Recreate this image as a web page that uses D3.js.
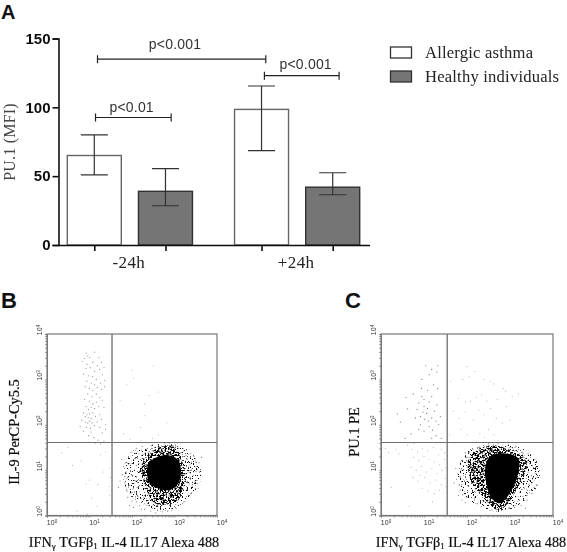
<!DOCTYPE html>
<html><head><meta charset="utf-8">
<script src="https://cdn.jsdelivr.net/npm/d3@7"></script>
<style>html,body{margin:0;padding:0;background:#fff}svg{display:block}</style></head>
<body><svg id="c" width="567" height="552"></svg>
<script>
// ---- Panel A data
const timepoints = ["-24h","+24h"];
const barLabels = ["Allergic asthma","Healthy individuals"];
const barPositions = [0,1,2.35,3.35];
const barGroups = [0,1,0,1];
const barMeans = [65,39,98.5,42];
const barLow = [51,28.5,68.5,36.5];
const barHigh = [80,55.5,115.5,52.5];
const yTicksA = [0,50,100,150];
const bracketFrom = [0.045,2.39,0.017];
const bracketTo = [2.41,3.44,1.08];
const bracketLevel = [135,123,92.6];
const bracketText = ["p<0.001","p<0.001","p<0.01"];
const bracketTextPos = [1.134,2.97,0.525];
const bracketTextLevel = [142.4,127.6,96.8];
// ---- Flow panels: hundredths of a decade, log10 axes 10^0..10^4
const gateB = [153,161];
const gateC = [154,161];
const coreB = [[235,100],[242,118],[262,130],[285,133],[309,122],[315,94],[309,71],[289,56],[262,60],[242,71]];
const denseB = [[223,93],[227,122],[246,140],[270,152],[297,152],[317,122],[325,93],[321,63],[309,34],[278,23],[250,30],[235,56]];
const sparseB = [[180,85],[195,137],[238,152],[262,157],[309,155],[348,130],[364,85],[329,34],[278,8],[231,23],[191,49]];
const coreC = [[242,100],[253,130],[284,137],[319,126],[319,93],[304,56],[277,27],[257,38],[246,67]];
const denseC = [[203,122],[230,148],[261,155],[300,144],[339,118],[335,93],[315,56],[292,23],[273,12],[250,27],[230,49],[211,71]];
const sparseC = [[180,100],[199,140],[246,155],[316,152],[362,122],[366,71],[327,27],[277,8],[215,27],[184,63]];
const ulB = [[92,358],[96,352],[88,346],[101,348],[112,360],[122,348],[84,340],[94,333],[108,338],[118,330],[128,338],[92,324],[102,326],[112,318],[124,322],[134,326],[86,312],[98,308],[107,306],[116,300],[130,310],[94,296],[104,292],[112,288],[126,292],[136,298],[90,284],[100,280],[108,276],[118,282],[128,278],[136,284],[96,268],[106,262],[116,268],[124,260],[88,256],[100,252],[108,246],[116,250],[130,254],[92,240],[98,234],[104,238],[112,236],[122,240],[134,238],[86,226],[90,218],[94,222],[97,216],[100,224],[104,214],[108,226],[114,218],[124,222],[82,210],[90,206],[96,204],[100,208],[106,204],[118,206],[128,212],[78,196],[92,194],[102,192],[112,198],[124,194],[138,200],[86,186],[104,184],[130,182],[138,190],[110,172],[120,166],[134,164],[114,160],[126,158],[98,176]];
const urB = [[200,320],[204,302],[188,288],[240,265],[250,330],[262,272],[172,254],[230,220],[230,246],[282,204],[262,178],[220,194],[196,168],[222,166],[238,160],[248,170],[180,180],[300,162],[210,138]];
const llB = [[70,10],[95,3],[92,70],[100,78],[120,68],[80,120],[60,110],[132,96],[105,38],[118,20],[138,140],[50,150],[35,138],[148,104],[146,64],[150,84],[148,44],[152,76],[151,55],[126,134]];
const haloB = [[180,108],[186,96],[177,90],[190,84],[183,72],[195,66],[188,58],[196,48],[190,40],[200,32],[194,22],[204,18],[210,110],[204,122],[198,114],[212,128],[206,100],[202,88],[208,76],[200,70],[212,62],[206,52],[214,42],[210,30],[218,22],[222,14],[230,26],[228,40],[216,136],[222,144],[234,146],[226,134],[238,140],[246,148],[254,144],[262,150],[270,146],[278,152],[288,148],[298,146],[306,142],[314,138],[322,130],[330,124],[328,108],[336,112],[332,96],[340,100],[336,82],[344,88],[334,70],[342,64],[330,56],[338,48],[328,42],[322,30],[314,24],[304,16],[294,12],[284,10],[272,8],[260,12],[248,16],[238,22],[352,98],[358,116],[348,74],[356,60],[350,118],[364,128],[346,130],[172,76],[168,62],[184,116],[176,124],[192,130],[200,140],[210,148],[224,152],[296,154],[262,156],[248,156],[276,158],[230,14],[244,10],[256,6],[340,118],[348,108],[338,136],[322,142],[310,148]];
const ulC = [[58,260],[62,235],[38,224],[45,206],[75,268],[80,215],[88,248],[95,262],[100,240],[106,225],[112,250],[118,262],[122,288],[132,280],[124,230],[130,244],[98,228],[102,212],[110,208],[92,200],[88,190],[100,186],[112,196],[120,188],[134,200],[138,218],[70,180],[56,170],[76,160],[118,170],[128,176],[140,170],[95,300],[112,310],[130,316],[118,322],[132,330],[104,330],[94,280],[108,276],[84,234],[118,215],[92,218],[108,236],[100,256],[128,208]];
const urC = [[162,296],[190,300],[205,306],[200,328],[218,318],[240,300],[255,296],[262,290],[285,280],[290,274],[320,268],[180,258],[196,250],[208,252],[222,260],[234,266],[246,252],[270,256],[292,240],[305,262],[168,230],[182,214],[196,228],[214,210],[228,232],[240,222],[255,236],[268,214],[282,204],[300,210],[230,180],[240,172],[250,190],[262,178],[272,166],[222,162],[200,178],[186,190],[160,178],[170,160]];
const llC = [[10,148],[18,138],[35,146],[42,136],[24,62],[62,155],[72,146],[85,140],[96,148],[108,142],[122,150],[134,134],[140,146],[148,138],[76,128],[88,122],[100,130],[112,124],[124,118],[136,112],[70,106],[82,100],[94,108],[106,96],[118,104],[130,92],[142,100],[74,84],[86,76],[90,88],[102,84],[114,72],[128,78],[140,68],[96,60],[110,54],[124,48],[136,56],[149,82],[151,105],[150,64],[152,50],[148,124],[120,30],[66,20]];
const haloC = [[176,80],[182,68],[178,92],[186,100],[184,56],[190,46],[188,34],[196,28],[194,76],[192,110],[200,120],[202,128],[196,138],[206,140],[214,146],[222,142],[230,150],[238,146],[248,152],[258,148],[268,152],[278,150],[288,148],[298,146],[310,142],[322,136],[332,128],[340,118],[344,96],[338,82],[334,60],[344,68],[330,42],[326,22],[312,22],[298,18],[352,110],[358,124],[348,132],[360,98],[354,84],[346,50],[340,34],[336,16],[218,36],[224,26],[234,20],[246,16],[258,12],[268,14],[280,12],[200,40],[190,58],[184,86],[174,104],[170,72],[180,44],[346,114],[342,136],[330,138],[320,146],[302,150],[290,152],[250,158],[262,156],[238,154],[226,150],[272,158],[350,72],[356,62]];

const deg = [0,1,2,3,4];
const svg = d3.select("#c");
const serif = "'Liberation Serif',serif", sans = "'Liberation Sans',sans-serif";
const defs = svg.append("defs");
defs.append("filter").attr("id","soft").attr("x","-5%").attr("y","-5%").attr("width","110%").attr("height","110%")
  .append("feGaussianBlur").attr("stdDeviation",0.35);
// stipple textures standing for the density of overlapping events
function stipple(id,seed,k,off){
  const f=defs.append("filter").attr("id",id).attr("color-interpolation-filters","sRGB");
  f.append("feTurbulence").attr("type","fractalNoise").attr("baseFrequency",0.6).attr("numOctaves",2).attr("seed",seed).attr("result","n");
  f.append("feColorMatrix").attr("in","n").attr("type","matrix").attr("values",`0 0 0 0 0 0 0 0 0 0 0 0 0 0 0 ${k} 0 0 0 ${off}`).attr("result","a");
  f.append("feComposite").attr("in","SourceGraphic").attr("in2","a").attr("operator","in");
}
stipple("sparse",3,14,-8.5);
stipple("dense",8,10,-4.7);

// Panel letters
[["A",1,18.5,20],["B",1,308,22],["C",345,308,22]].forEach(([t,x,y,fs])=>svg.append("text").text(t).attr("x",x).attr("y",y)
  .attr("font-family",sans).attr("font-weight","bold").attr("font-size",fs).attr("fill","#111"));

// ---- Panel A
const g = svg.append("g").attr("filter","url(#soft)");
const xA = d3.scaleLinear().domain([0,3.35]).range([94.3,332.7]);
const yA = d3.scaleLinear().domain([0,150]).range([245,38.5]);
const colors = ["#fff","#757575"], barW = 54;
barMeans.forEach((m,i)=>{
  g.append("rect").attr("x",xA(barPositions[i])-barW/2).attr("y",yA(m)).attr("width",barW).attr("height",yA(0)-yA(m))
    .attr("fill",colors[barGroups[i]]).attr("stroke",barGroups[i]?"#333":"#666").attr("stroke-width",1.4);
});
barMeans.forEach((m,i)=>{
  const x=xA(barPositions[i]), cap=xA(0.19)-xA(0);
  const s=d3.path(); s.moveTo(x,yA(barLow[i])); s.lineTo(x,yA(barHigh[i]));
  s.moveTo(x-cap,yA(barLow[i])); s.lineTo(x+cap,yA(barLow[i]));
  s.moveTo(x-cap,yA(barHigh[i])); s.lineTo(x+cap,yA(barHigh[i]));
  g.append("path").attr("d",s.toString()).attr("fill","none").attr("stroke","#333").attr("stroke-width",1.2);
});
const axY = g.append("g").attr("transform","translate(58.5,0)").call(d3.axisLeft(yA).tickValues(yTicksA).tickSize(6).tickFormat(d3.format("d")));
axY.selectAll("text").attr("font-family",sans).attr("font-weight","bold").attr("font-size",15).attr("fill","#111").attr("x",-8);
const axX = g.append("g").attr("transform","translate(0,245)").call(d3.axisBottom(xA).tickValues(barPositions).tickSize(6).tickFormat(""));
axX.select(".domain").attr("d","M58.5,0.5H370");
g.selectAll(".domain,.tick line").attr("stroke","#111").attr("stroke-width",1.6);
timepoints.forEach((t,i)=>{
  const mx=(xA(barPositions[i*2])+xA(barPositions[i*2+1]))/2;
  g.append("text").text(t).attr("x",mx-1).attr("y",268).attr("text-anchor","middle")
   .attr("font-family",serif).attr("font-size",17).attr("letter-spacing",0.4).attr("fill","#222");
});
g.append("text").text("PU.1 (MFI)").attr("transform","translate(15,142) rotate(-90)").attr("text-anchor","middle")
  .attr("font-family",serif).attr("font-size",16).attr("letter-spacing",0.2).attr("fill","#444");
bracketFrom.forEach((f,i)=>{
  const y=yA(bracketLevel[i]);
  const s=d3.path(); s.moveTo(xA(f),y); s.lineTo(xA(bracketTo[i]),y);
  s.moveTo(xA(f),y-4); s.lineTo(xA(f),y+4); s.moveTo(xA(bracketTo[i]),y-4); s.lineTo(xA(bracketTo[i]),y+4);
  g.append("path").attr("d",s.toString()).attr("fill","none").attr("stroke","#222").attr("stroke-width",1.2);
  g.append("text").text(bracketText[i]).attr("x",xA(bracketTextPos[i])).attr("y",yA(bracketTextLevel[i])).attr("text-anchor","middle")
    .attr("font-family",sans).attr("font-size",14).attr("letter-spacing",0.2).attr("fill","#333");
});
// legend
barLabels.forEach((t,i)=>{
  const ly=d3.scaleLinear().domain([0,1]).range([58,82])(i);
  g.append("rect").attr("x",390.5).attr("y",ly-11).attr("width",21).attr("height",11).attr("fill",colors[i]).attr("stroke","#333").attr("stroke-width",1.3);
  g.append("text").text(t).attr("x",425).attr("y",ly).attr("font-family",serif).attr("font-size",16.6).attr("letter-spacing",0.2).attr("fill","#222");
});

// ---- Flow panels
function flow(o){
  const p=svg.append("g").attr("filter","url(#soft)");
  const x=d3.scaleLinear().domain([0,400]).range(o.xr), y=d3.scaleLinear().domain([0,400]).range([515.5,334]);
  const line=d3.line().x(d=>x(d[0])).y(d=>y(d[1])).curve(d3.curveCatmullRomClosed);
  const dots=(arr,fill,r,op)=>p.append("g").selectAll("circle").data(arr).join("circle")
    .attr("cx",d=>x(d[0])).attr("cy",d=>y(d[1])).attr("r",r).attr("fill",fill).attr("opacity",op);
  dots(o.ul,"#777",0.6,o.ulOp); dots(o.ur,"#999",0.55,.7); dots(o.ll,"#999",0.55,.75);
  p.append("path").attr("d",line(o.sparse)).attr("fill","#111").attr("filter","url(#sparse)");
  p.append("path").attr("d",line(o.dense)).attr("fill","#000").attr("filter","url(#dense)");
  p.append("path").attr("d",line(o.core)).attr("fill","#000");
  dots(o.halo,"#333",0.55,.7);
  // box and gates
  p.append("rect").attr("x",o.xr[0]).attr("y",334).attr("width",o.xr[1]-o.xr[0]).attr("height",181.5).attr("fill","none").attr("stroke","#777").attr("stroke-width",1.2);
  p.append("line").attr("x1",x(o.gate[0])).attr("x2",x(o.gate[0])).attr("y1",334).attr("y2",515.5).attr("stroke","#6e6e6e").attr("stroke-width",1.3);
  p.append("line").attr("x1",o.xr[0]).attr("x2",o.xr[1]).attr("y1",y(o.gate[1])).attr("y2",y(o.gate[1])).attr("stroke","#6e6e6e").attr("stroke-width",1.1);
  // decade ticks and minor log ticks
  const minors=[]; deg.slice(0,4).forEach(d=>[1,2,3,4,5,6,7,8,9].forEach(k=>minors.push(100*(d+Math.log10(k)))));
  const ax=p.append("g").attr("transform","translate(0,515.5)").call(d3.axisBottom(x).tickValues(minors).tickSize(2).tickFormat(""));
  const ay=p.append("g").attr("transform",`translate(${o.xr[0]},0)`).call(d3.axisLeft(y).tickValues(minors).tickSize(2).tickFormat(""));
  [ax,ay].forEach(a=>{a.select(".domain").attr("stroke","#777");a.selectAll("line").attr("stroke","#777").attr("stroke-width",.7);});
  deg.forEach(d=>{
    const tx=p.append("text").attr("x",x(d*100)+5).attr("y",525).attr("text-anchor","middle").attr("font-family",sans).attr("font-size",7).attr("fill","#333");
    tx.append("tspan").text("10"); tx.append("tspan").text(d).attr("dy",-2).attr("font-size",4.5);
    const ty=p.append("text").attr("transform",`translate(${o.xr[0]-5},${y(d*100)-4}) rotate(-90)`).attr("text-anchor","middle").attr("font-family",sans).attr("font-size",7).attr("fill","#333");
    ty.append("tspan").text("10"); ty.append("tspan").text(d).attr("dy",-2).attr("font-size",4.5);
  });
  // labels
  p.append("text").text(o.yLabel).attr("transform",`translate(${o.yLabelX},432) rotate(-90)`).attr("text-anchor","middle")
    .attr("font-family",serif).attr("font-size",14.4).attr("fill","#111").attr("stroke","#111").attr("stroke-width",.2);
  const t=p.append("text").attr("x",o.xLabelX).attr("y",547).attr("text-anchor","middle").attr("font-family",serif).attr("font-size",14.2).attr("fill","#111").attr("stroke","#111").attr("stroke-width",.2);
  t.append("tspan").text("IFN"); t.append("tspan").text("γ").attr("dy",2).attr("font-size",9);
  t.append("tspan").text(" TGFβ").attr("dy",-2); t.append("tspan").text("1").attr("dy",2).attr("font-size",9);
  t.append("tspan").text(" IL-4 IL17 Alexa 488").attr("dy",-2);
}
flow({xr:[47,217],gate:gateB,core:coreB,dense:denseB,sparse:sparseB,ul:ulB,ulOp:.8,ur:urB,ll:llB,halo:haloB,yLabel:"IL-9 PerCP-Cy5.5",yLabelX:18.5,xLabelX:124});
flow({xr:[381,553],gate:gateC,core:coreC,dense:denseC,sparse:sparseC,ul:ulC,ulOp:1,ur:urC,ll:llC,halo:haloC,yLabel:"PU.1 PE",yLabelX:359,xLabelX:471});
</script></body></html>
